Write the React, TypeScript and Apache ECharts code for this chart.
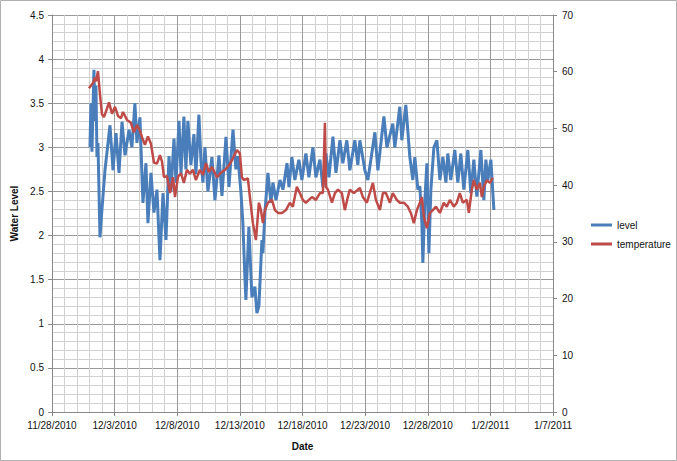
import React, { useEffect, useRef } from "react";
import * as echarts from "echarts";

// Time in days since 11/28/2010 00:00
const levelDays = [
  3.03, 3.11, 3.19, 3.35, 3.43, 3.51, 3.59, 3.67, 3.83, 3.99, 4.23, 4.63, 4.87, 5.11, 5.35, 5.59, 5.83,
  6.15, 6.38, 6.62, 6.78, 7.02, 7.26, 7.5, 7.66, 7.9, 8.14, 8.38, 8.62, 8.86, 9.1, 9.34, 9.5, 9.74, 9.9,
  10.14, 10.3, 10.53, 10.69, 10.85, 11.09, 11.33, 11.49, 11.73, 11.89, 12.05, 12.21, 12.45, 12.77, 13.01,
  13.33, 13.57, 13.89, 14.13, 14.45, 14.68, 14.84, 15.08, 15.24, 15.4, 15.48, 15.72, 15.96, 16.2, 16.36,
  16.52, 16.76, 16.84, 17.0, 17.24, 17.48, 17.64, 17.88, 18.2, 18.44, 18.76, 18.92, 19.15, 19.39, 19.71,
  19.95, 20.27, 20.51, 20.83, 21.07, 21.39, 21.63, 21.87, 22.11, 22.43, 22.67, 22.99, 23.22, 23.54, 23.78,
  24.18, 24.42, 24.58, 24.98, 25.22, 25.78, 26.02, 26.5, 26.74, 27.21, 27.37, 27.77, 27.93, 28.25, 28.57,
  28.81, 28.97, 29.21, 29.37, 29.53, 29.61, 29.77, 29.93, 30.09, 30.25, 30.49, 30.73, 30.97, 31.21, 31.45,
  31.6, 31.84, 32.16, 32.4, 32.64, 32.88, 33.2, 33.44, 33.68, 33.92, 34.24, 34.48, 34.64, 34.8, 35.04, 35.28,
];
const levelValues = [
  3.0, 3.5, 2.95, 3.88, 3.3, 3.7, 2.89, 3.05, 1.98, 2.3, 2.74, 3.25, 2.74, 3.16, 2.71, 3.29, 2.91,
  3.2, 3.0, 3.5, 3.05, 3.34, 2.37, 2.82, 2.14, 2.71, 2.26, 2.52, 1.72, 2.48, 1.95, 2.9, 2.5, 3.1, 2.6,
  3.3, 2.7, 3.35, 2.75, 3.3, 2.8, 3.15, 2.7, 3.37, 2.85, 2.6, 3.0, 2.5, 2.89, 2.4,
  2.91, 2.45, 3.12, 2.55, 3.2, 2.75, 2.9, 2.5, 2.14, 1.53, 1.27, 2.1, 1.3, 1.42, 1.12,
  1.2, 1.95, 1.8, 2.26, 2.71, 2.37, 2.6, 2.4, 2.63, 2.52, 2.82, 2.55, 2.89, 2.63, 2.86,
  2.63, 2.93, 2.66, 3.0, 2.66, 2.86, 2.55, 2.93, 2.66, 3.12, 2.71, 3.08, 2.82, 3.08, 2.74,
  3.08, 2.8, 3.08, 2.74, 2.63, 3.17, 2.74, 3.35, 3.0, 3.27, 3.0, 3.46, 3.08, 3.48, 2.89,
  2.63, 2.89, 2.52, 2.56, 2.14, 1.69, 2.4, 2.82, 1.8, 2.52, 3.0, 3.08, 2.63, 2.89, 2.6,
  2.93, 2.63, 2.97, 2.6, 2.93, 2.52, 2.97, 2.48, 2.86, 2.44, 2.97, 2.4, 2.86, 2.63, 2.86, 2.29,
];

const tempDays = [
  2.95, 3.27, 3.43, 3.51, 3.67, 3.83, 3.99, 4.15, 4.39, 4.55, 4.79, 5.03, 5.27, 5.51, 5.67, 5.99, 6.3,
  6.54, 6.78, 7.02, 7.18, 7.42, 7.66, 7.9, 8.14, 8.38, 8.62, 8.78, 8.94, 9.18, 9.42, 9.66, 9.82, 10.06,
  10.3, 10.53, 10.77, 11.01, 11.25, 11.49, 11.81, 12.05, 12.29, 12.53, 12.77, 13.17, 13.49, 13.81, 14.13,
  14.37, 14.76, 15.0, 15.16, 15.32, 15.64, 15.8, 16.04, 16.28, 16.52, 16.68, 16.84, 17.0, 17.24, 17.56,
  17.8, 18.04, 18.36, 18.68, 18.99, 19.23, 19.55, 19.79, 20.03, 20.27, 20.51, 20.75, 21.07, 21.39, 21.63,
  21.79, 21.87, 22.03, 22.35, 22.59, 22.83, 23.14, 23.38, 23.62, 23.78, 24.1, 24.42, 24.58, 24.82, 25.14,
  25.62, 25.86, 26.18, 26.42, 26.66, 26.98, 27.21, 27.53, 27.77, 28.09, 28.41, 28.65, 28.89, 29.13, 29.37,
  29.53, 29.69, 29.93, 30.17, 30.41, 30.65, 30.97, 31.28, 31.52, 31.76, 32.08, 32.32, 32.56, 32.8, 33.12,
  33.28, 33.52, 33.68, 33.92, 34.16, 34.32, 34.48, 34.72, 34.96, 35.2,
];
const tempValues = [
  57.1, 58, 59, 58.3, 60.1, 56, 52.5, 52, 53.5, 54.6, 52.6, 53.8, 52.2, 51.8, 52.9, 51.5, 51,
  49.3, 50.6, 49.6, 48.5, 47.1, 48.6, 47.3, 44, 43.8, 45.3, 44.2, 41.4, 41.6, 38.6, 41.4, 37.9, 41.5,
  42.1, 40.4, 42.7, 42.0, 42.7, 40.9, 42.7, 41.8, 43.9, 42.3, 43.2, 41.4, 42.2, 42.7, 43.5,
  44.4, 46.2, 45.6, 41.4, 40.9, 41.2, 37.9, 33.3, 30.3, 36.9, 35.6, 33.3, 35.6, 36.9, 37.4,
  35.6, 35.1, 35.1, 35.6, 36.9, 36.2, 39.7, 38.6, 37.4, 36.9, 37.4, 37.9, 37.4, 38.6, 38.6,
  51.0, 39.7, 39.2, 36.9, 38.6, 39.2, 38.6, 35.6, 37.9, 39.2, 38.6, 39.2, 39.5, 37.9, 36.9,
  40.4, 37.4, 35.6, 38.6, 38.6, 36.9, 38.6, 37.4, 36.9, 36.9, 36.2, 35.1, 33.3, 35.6, 36.9,
  37.9, 34.4, 32.4, 35.1, 35.6, 36.2, 35.1, 36.9, 36.2, 37.4, 36.2, 36.9, 38.6, 36.9, 37.4,
  35.1, 39.2, 40.9, 39.2, 40.4, 37.9, 39.7, 40.9, 40.4, 41.3,
];

const START_UTC = Date.UTC(2010, 10, 28);
const leftTicks = [0, 0.5, 1, 1.5, 2, 2.5, 3, 3.5, 4, 4.5];
const rightTicks = [0, 10, 20, 30, 40, 50, 60, 70];

const FONT = "Liberation Sans";

function fmtDate(d: number): string {
  const dt = new Date(START_UTC + Math.round(d) * 86400000);
  return `${dt.getUTCMonth() + 1}/${dt.getUTCDate()}/${dt.getUTCFullYear()}`;
}

export default function App() {
  const ref = useRef<HTMLDivElement>(null);
  useEffect(() => {
    if (!ref.current) return;
    const chart = echarts.init(ref.current, null, { renderer: "svg" });
    const levelData = levelDays.map((d, i) => [d, levelValues[i]]);
    const tempData = tempDays.map((d, i) => [d, tempValues[i]]);
    chart.setOption({
      animation: false,
      backgroundColor: "#fff",
      textStyle: { fontFamily: FONT },
      graphic: [
        {
          type: "rect",
          shape: { x: 0.5, y: 0.5, width: 676, height: 460 },
          style: { fill: "none", stroke: "#b0b0b0", lineWidth: 1 },
          silent: true,
        },
      ],
      grid: { left: 52, right: 124, top: 15, bottom: 49, containLabel: false },
      legend: {
        orient: "vertical",
        left: 586,
        top: 215,
        itemWidth: 21,
        itemHeight: 3,
        itemGap: 9,
        icon: "rect",
        textStyle: { fontSize: 10, color: "#111", fontFamily: FONT },
        data: ["level", "temperature"],
      },
      xAxis: {
        type: "value",
        min: 0,
        max: 40,
        interval: 5,
        name: "Date",
        nameLocation: "middle",
        nameGap: 29,
        nameTextStyle: { fontWeight: "bold", fontSize: 10, color: "#111", fontFamily: FONT },
        axisLine: { show: true, lineStyle: { color: "#888", width: 1 } },
        axisTick: { show: true, length: 4, lineStyle: { color: "#888" } },
        axisLabel: {
          formatter: (v: number) => fmtDate(v),
          fontSize: 10,
          color: "#111",
          margin: 8,
          fontFamily: FONT,
          showMinLabel: true,
          showMaxLabel: true,
        },
        splitLine: { show: true, lineStyle: { color: "#9a9a9a", width: 1 } },
        minorTick: { show: false, splitNumber: 5 },
        minorSplitLine: { show: true, lineStyle: { color: "#d0d0d0", width: 1 } },
      },
      yAxis: [
        {
          type: "value",
          min: leftTicks[0],
          max: leftTicks[leftTicks.length - 1],
          interval: 0.5,
          name: "Water Level",
          nameLocation: "middle",
          nameGap: 24,
          nameRotate: 90,
          nameTextStyle: { fontWeight: "bold", fontSize: 10, color: "#111", fontFamily: FONT },
          axisLine: { show: true, lineStyle: { color: "#888", width: 1 } },
          axisTick: { show: true, length: 4, lineStyle: { color: "#888" } },
          axisLabel: { fontSize: 10, color: "#111", margin: 8, fontFamily: FONT },
          splitLine: { show: true, lineStyle: { color: "#9a9a9a", width: 1 } },
          minorTick: { show: false, splitNumber: 5 },
          minorSplitLine: { show: true, lineStyle: { color: "#d0d0d0", width: 1 } },
        },
        {
          type: "value",
          min: rightTicks[0],
          max: rightTicks[rightTicks.length - 1],
          interval: 10,
          position: "right",
          axisLine: { show: true, lineStyle: { color: "#888", width: 1 } },
          axisTick: { show: true, length: 4, lineStyle: { color: "#888" } },
          axisLabel: { fontSize: 10, color: "#111", margin: 9, fontFamily: FONT },
          splitLine: { show: false },
        },
      ],
      series: [
        {
          name: "level",
          type: "line",
          yAxisIndex: 0,
          showSymbol: false,
          symbol: "none",
          data: levelData,
          lineStyle: { color: "#4a7ebb", width: 3 },
          itemStyle: { color: "#4a7ebb" },
        },
        {
          name: "temperature",
          type: "line",
          yAxisIndex: 1,
          showSymbol: false,
          symbol: "none",
          data: tempData,
          lineStyle: { color: "#be4b48", width: 2.5 },
          itemStyle: { color: "#be4b48" },
        },
      ],
    });
    return () => chart.dispose();
  }, []);
  return (
    <div
      ref={ref}
      style={{ position: "absolute", left: 0, top: 0, width: 677, height: 461 }}
    />
  );
}
